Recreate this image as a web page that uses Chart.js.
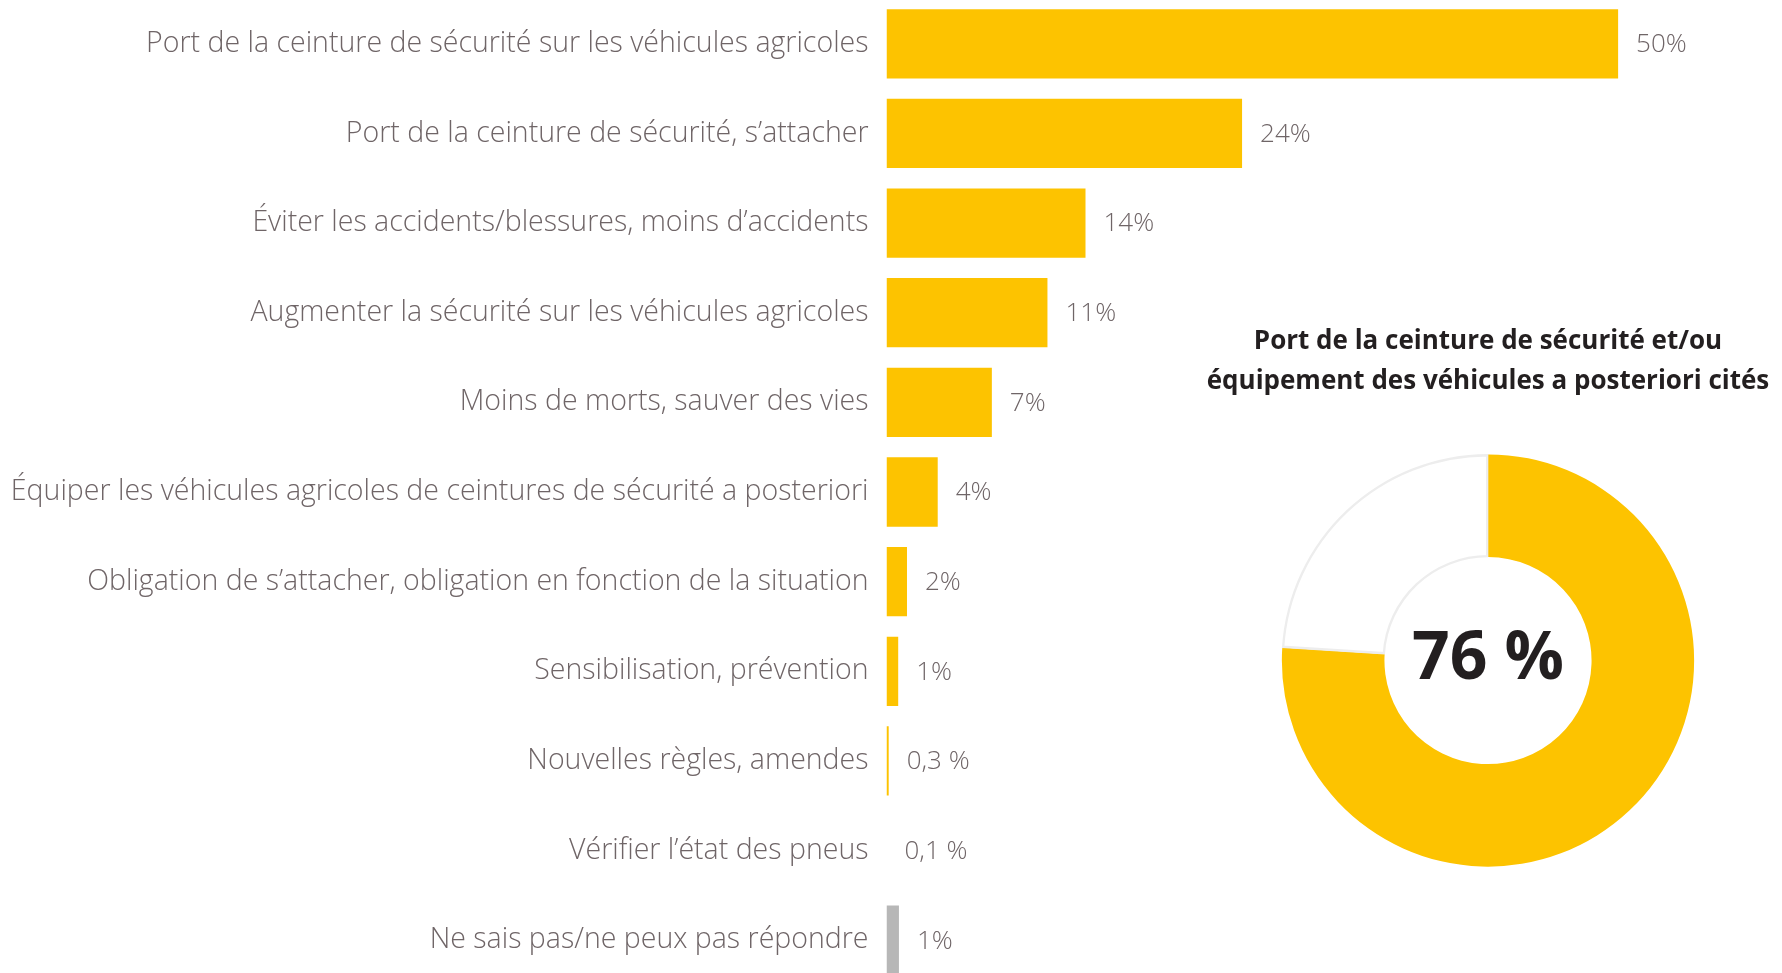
<!DOCTYPE html>
<html>
<head>
<meta charset="utf-8">
<script src="https://cdn.jsdelivr.net/npm/chart.js@4.4.1/dist/chart.umd.min.js"></script>
<style>
  html, body { margin: 0; padding: 0; background: #ffffff; overflow: hidden; width: 1782px; height: 973px; }
  #barWrap { position: absolute; left: 0; top: -1px; width: 1782px; height: 986px; }
  #donutWrap { position: absolute; left: 1190px; top: 310px; width: 596px; height: 557px; }
</style>
</head>
<body>
<div id="barWrap"><canvas id="bars"></canvas></div>
<div id="donutWrap"><canvas id="donut"></canvas></div>
<script>
// ---- data ----
const categories = [
  "Port de la ceinture de sécurité sur les véhicules agricoles",
  "Port de la ceinture de sécurité, s’attacher",
  "Éviter les accidents/blessures, moins d’accidents",
  "Augmenter la sécurité sur les véhicules agricoles",
  "Moins de morts, sauver des vies",
  "Équiper les véhicules agricoles de ceintures de sécurité a posteriori",
  "Obligation de s’attacher, obligation en fonction de la situation",
  "Sensibilisation, prévention",
  "Nouvelles règles, amendes",
  "Vérifier l’état des pneus",
  "Ne sais pas/ne peux pas répondre"
];
const values = [50, 24.3, 13.6, 11, 7.2, 3.5, 1.4, 0.8, 0.15, 0, 0.85];
const valueLabels = ["50%", "24%", "14%", "11%", "7%", "4%", "2%", "1%", "0,3 %", "0,1 %", "1%"];
const barColors = ["#FDC300","#FDC300","#FDC300","#FDC300","#FDC300","#FDC300","#FDC300","#FDC300","#FDC300","#FDC300","#B7B7B7"];

const donutLabels = ["Cités", "Non cités"];
const donutValues = [76, 24];
const donutCenterText = "76 %";
const donutTitle = ["Port de la ceinture de sécurité et/ou", "équipement des véhicules a posteriori cités"];

const TEXT_GREY = "#6F6567";
const LABEL_FONT = "'Open Sans', sans-serif";

// ---- bar chart ----
const valueLabelPlugin = {
  id: 'valueLabels',
  afterDatasetsDraw(chart) {
    const ctx = chart.ctx;
    const meta = chart.getDatasetMeta(0);
    ctx.save();
    ctx.font = "300 26px " + LABEL_FONT;
    ctx.fillStyle = TEXT_GREY;
    ctx.textAlign = "left";
    ctx.textBaseline = "middle";
    meta.data.forEach((bar, i) => {
      ctx.fillText(valueLabels[i], bar.x + 18, bar.y + 1);
    });
    ctx.restore();
  }
};

new Chart(document.getElementById('bars'), {
  type: 'bar',
  data: {
    labels: categories,
    datasets: [{
      data: values,
      backgroundColor: barColors,
      borderWidth: 0,
      categoryPercentage: 1,
      barPercentage: 0.773
    }]
  },
  options: {
    indexAxis: 'y',
    responsive: true,
    maintainAspectRatio: false,
    animation: false,
    layout: { padding: 0 },
    plugins: { legend: { display: false }, tooltip: { enabled: false }, title: { display: false } },
    scales: {
      x: { display: false, min: 0, max: 61.2 },
      y: {
        grid: { display: false, drawTicks: false },
        border: { display: false },
        ticks: {
          color: TEXT_GREY,
          padding: 18,
          font: { family: LABEL_FONT, size: 28.5, weight: '300' }
        },
        afterFit(scale) {
          scale.width = 886.5;
          scale.paddingTop = 0;
          scale.paddingBottom = 0;
        }
      }
    }
  },
  plugins: [valueLabelPlugin]
});

// ---- donut chart ----
const centerTextPlugin = {
  id: 'centerText',
  afterDatasetsDraw(chart) {
    const arc = chart.getDatasetMeta(0).data[0];
    if (!arc) return;
    const ctx = chart.ctx;
    ctx.save();
    ctx.font = "700 66px 'Open Sans', sans-serif";
    ctx.fillStyle = "#231F20";
    ctx.textAlign = "center";
    ctx.textBaseline = "middle";
    ctx.fillText(donutCenterText, arc.x, arc.y);
    ctx.restore();
  }
};

new Chart(document.getElementById('donut'), {
  type: 'doughnut',
  data: {
    labels: donutLabels,
    datasets: [{
      data: donutValues,
      backgroundColor: ["#FDC300", "#FFFFFF"],
      borderColor: ["#FDC300", "#EDEDED"],
      borderWidth: [0, 2],
      borderAlign: 'inner'
    }]
  },
  options: {
    responsive: true,
    maintainAspectRatio: false,
    animation: false,
    cutout: '50%',
    layout: { padding: 0 },
    plugins: {
      legend: { display: false },
      tooltip: { enabled: false },
      title: {
        display: true,
        text: donutTitle,
        color: "#231F20",
        font: { family: "'Open Sans', sans-serif", size: 26, weight: '700', lineHeight: 1.54 },
        padding: { top: 12, bottom: 52 }
      }
    }
  },
  plugins: [centerTextPlugin]
});
</script>
</body>
</html>
